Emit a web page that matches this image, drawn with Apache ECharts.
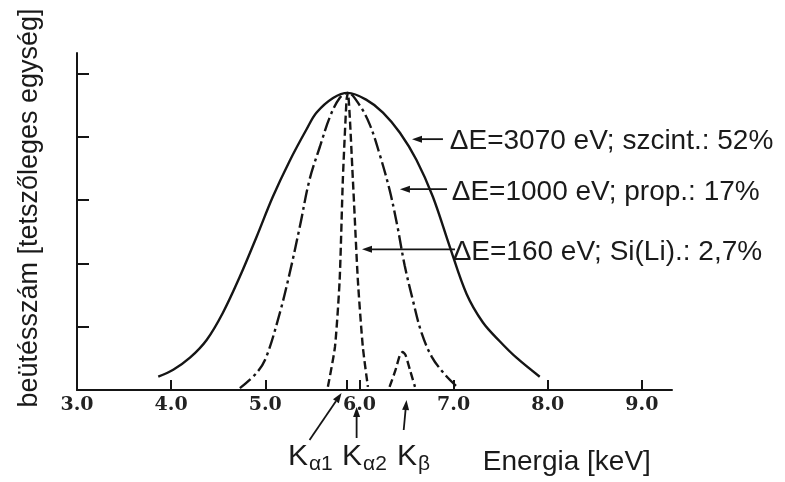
<!DOCTYPE html>
<html>
<head>
  <meta charset="utf-8">
  <title>energiafelbontás</title>
  <script src="https://cdn.jsdelivr.net/npm/echarts@6/dist/echarts.min.js"></script>
  <style type="text/css">
    body {
      margin: 0;
      padding: 0;
      background: #fff;
    }
    .box {
      width: 785px;
      height: 482px;
    }
  </style>
</head>
<body>
<div id="main" class="box"></div>
<script>
// szcintillációs detektor, dE=3070 eV (folytonos vonal)
const scintX = [3.863, 4.022, 4.20, 4.377, 4.55, 4.73, 4.908, 5.08, 5.26, 5.44, 5.545, 5.72, 5.877, 6.075, 6.25, 6.43, 6.606, 6.78, 6.96, 7.137, 7.31, 7.49, 7.668, 7.915];
const scintY = [0.21, 0.32, 0.51, 0.79, 1.22, 1.79, 2.42, 3.05, 3.62, 4.12, 4.38, 4.61, 4.69, 4.58, 4.38, 4.06, 3.63, 3.05, 2.26, 1.52, 1.07, 0.77, 0.51, 0.21];
// proporcionális számláló, dE=1000 eV (pont-vonal)
const propX = [4.73, 4.908, 5.01, 5.155, 5.26, 5.367, 5.47, 5.58, 5.686, 5.79, 5.877, 6.0, 6.11, 6.217, 6.32, 6.40, 6.48, 6.567, 6.66, 6.77, 6.91, 7.03];
const propY = [0.03, 0.27, 0.52, 1.22, 1.85, 2.58, 3.32, 3.84, 4.31, 4.61, 4.69, 4.50, 4.19, 3.71, 3.16, 2.61, 1.97, 1.42, 0.90, 0.52, 0.24, 0.06];
// Si(Li), dE=160 eV (szaggatott) - Ka csúcs és Kb csúcs, köztük szakadás
const siliX = [5.665, 5.74, 5.79, 5.824, 5.863, 5.877, 5.93, 5.983, 6.036, 6.09, 6.2, 6.32, 6.38, 6.43, 6.46, 6.49, 6.54, 6.59];
const siliY = [0.05, 0.68, 1.74, 3.33, 4.58, 4.69, 3.33, 1.74, 0.68, 0.05, null, 0.05, 0.30, 0.55, 0.60, 0.55, 0.30, 0.05];

const xTickLabels = [3, 4, 5, 6, 7, 8, 9];
const xTicks = [4, 5, 5.87, 6, 7, 8, 9];
const yTicks = [1, 2, 3, 4, 5];

const annoText = ['ΔE=3070 eV; szcint.: 52%', 'ΔE=1000 eV; prop.: 17%', 'ΔE=160 eV; Si(Li).: 2,7%'];
const annoTextPos = [[6.96, 3.92], [6.98, 3.12], [6.99, 2.18]];
const annoTip = [[6.558, 3.96], [6.43, 3.17], [6.027, 2.22]];
const annoTailX = [6.887, 6.93, 7.015];

const lineNames = ['α1', 'α2', 'β'];
const lineLabelX = [5.24, 5.815, 6.40];
// nyilak a vonalakhoz: [farok x, farok dy, hegy x, hegy dy] (dy pixelben a tengely alatt)
const lineArrows = [[5.47, 50, 5.81, 3], [5.97, 48, 5.97, 17], [6.47, 40, 6.50, 10]];

const INK = '#151515';
const pairs = (xs, ys) => xs.map((x, i) => [x, ys[i] === null ? '-' : ys[i]]);

const chart = echarts.init(document.getElementById('main'));
chart.setOption({
  animation: false,
  backgroundColor: '#fff',
  grid: {left: 77, right: 113, top: 53, bottom: 92},
  xAxis: {
    type: 'value',
    min: 3,
    max: 9.32,
    interval: 1,
    splitLine: {show: false},
    axisLine: {onZero: false, lineStyle: {color: INK, width: 2}},
    axisTick: {inside: true, length: 10, customValues: xTicks, lineStyle: {color: INK, width: 2}},
    axisLabel: {
      customValues: xTickLabels,
      formatter: (v) => v.toFixed(1),
      margin: 6,
      color: '#222',
      fontFamily: 'DejaVu Serif',
      fontWeight: 'bold',
      fontSize: 19,
    },
  },
  yAxis: {
    type: 'value',
    min: 0,
    max: 5.32,
    interval: 1,
    splitLine: {show: false},
    axisLine: {lineStyle: {color: INK, width: 2}},
    axisTick: {inside: true, length: 12, customValues: yTicks, lineStyle: {color: INK, width: 2}},
    axisLabel: {show: false},
  },
  series: [
    {
      type: 'line', data: pairs(scintX, scintY), smooth: 0.35, symbol: 'none',
      lineStyle: {color: INK, width: 2.4},
    },
    {
      type: 'line', data: pairs(propX, propY), smooth: 0.35, symbol: 'none',
      lineStyle: {color: INK, width: 2.4, type: [14, 4, 3, 4]},
    },
    {
      type: 'line', data: pairs(siliX, siliY), smooth: 0.2, symbol: 'none', connectNulls: false,
      lineStyle: {color: INK, width: 2.4, type: [8, 4]},
    },
  ],
});

// pixel helpers
const px = (x, y) => chart.convertToPixel({gridIndex: 0}, [x, y]);
const base = px(3, 0)[1];

const arrow = (a, b) => {
  const dx = b[0] - a[0], dy = b[1] - a[1];
  const len = Math.sqrt(dx * dx + dy * dy);
  const ux = dx / len, uy = dy / len;
  const hl = 10, hw = 3.5;
  const bx = b[0] - ux * hl, by = b[1] - uy * hl;
  return [
    {type: 'line', shape: {x1: a[0], y1: a[1], x2: bx, y2: by}, style: {stroke: INK, lineWidth: 1.8}},
    {type: 'polygon', shape: {points: [[b[0], b[1]], [bx - uy * hw, by + ux * hw], [bx + uy * hw, by - ux * hw]]}, style: {fill: INK}},
  ];
};

const txt = (x, y, text, size, extra) => Object.assign({
  type: 'text', x: x, y: y,
  style: {text: text, fill: '#1a1a1a', font: size + 'px "Liberation Sans", Arial, sans-serif', align: 'left', verticalAlign: 'middle'},
}, extra || {});

let g = [];
annoText.forEach((t, i) => {
  const p = px(annoTextPos[i][0], annoTextPos[i][1]);
  g.push(txt(p[0], p[1], t, 28));
  const tip = px(annoTip[i][0], annoTip[i][1]);
  const tail = px(annoTailX[i], annoTip[i][1]);
  g = g.concat(arrow(tail, tip));
});

lineArrows.forEach((a) => {
  const tail = [px(a[0], 0)[0], base + a[1]];
  const tip = [px(a[2], 0)[0], base + a[3]];
  g = g.concat(arrow(tail, tip));
});

lineNames.forEach((s, i) => {
  const x = px(lineLabelX[i], 0)[0];
  g.push(txt(x, base + 67, 'K', 30));
  g.push(txt(x + 21, base + 74, s, 21));
});

g.push(txt(px(7.31, 0)[0], base + 72, 'Energia [keV]', 28));
g.push(txt(30, 208, '', 27, {rotation: Math.PI / 2, style: {
  text: 'beütésszám [tetszőleges egység]', fill: '#1a1a1a',
  font: '27px "Liberation Sans", Arial, sans-serif', align: 'center', verticalAlign: 'middle'}}));

chart.setOption({graphic: g});
</script>
</body>
</html>
